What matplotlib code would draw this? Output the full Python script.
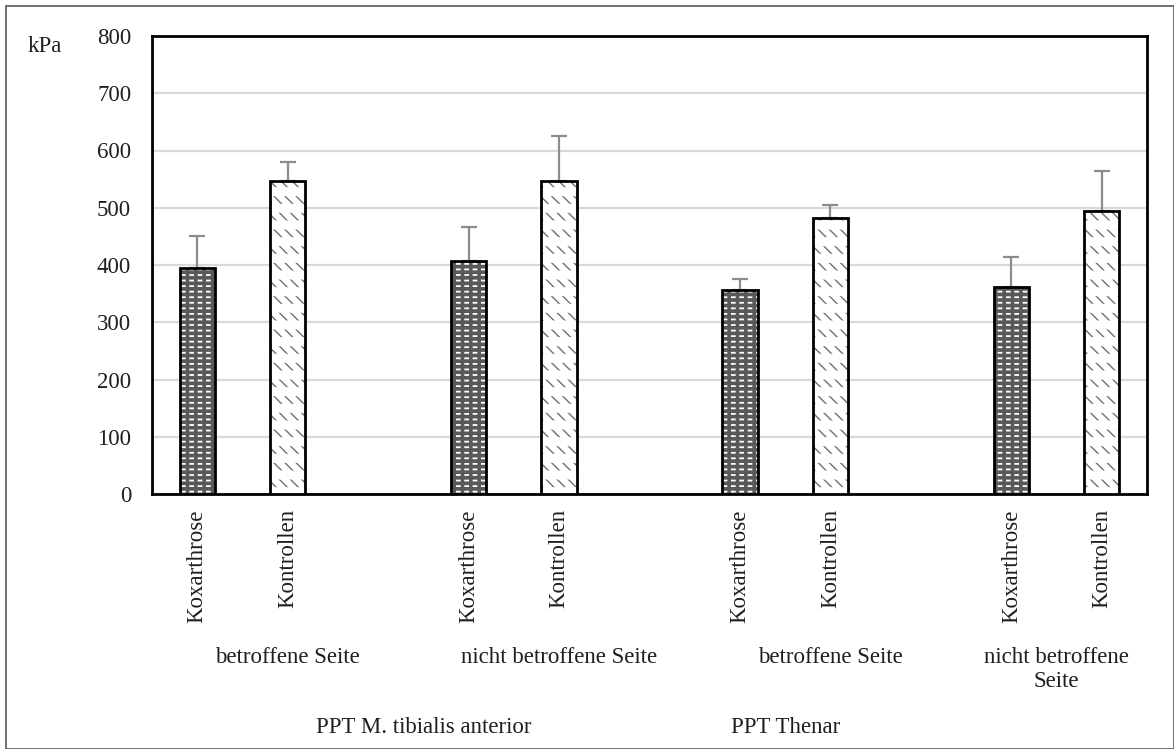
import matplotlib
matplotlib.use("Agg")
import matplotlib.pyplot as plt
from matplotlib.patches import Rectangle

# ---- data ----
categories = ["Koxarthrose", "Kontrollen"] * 4
positions = [0, 1, 3, 4, 6, 7, 9, 10]
values = [395, 547, 407, 547, 356, 482, 362, 494]
err_upper = [56, 33, 59, 79, 19, 23, 52, 71]
sub_labels = ["betroffene Seite", "nicht betroffene Seite", "betroffene Seite", "nicht betroffene\nSeite"]
sub_pos = [1, 4, 7, 9.5]
top_labels = ["PPT M. tibialis anterior", "PPT Thenar"]
top_pos = [2.5, 6.5]
yticks = [0, 100, 200, 300, 400, 500, 600, 700, 800]

plt.rcParams['font.family'] = ['Liberation Serif', 'DejaVu Serif']
FS = 16.5
TC = "#1f1f1f"

fig = plt.figure(figsize=(11.74, 7.49), dpi=100)
ax = fig.add_axes([152/1174, 1-494/749, (1147-152)/1174, (494-36)/749])

w = 0.39
for p, v, c in zip(positions, values, categories):
    if c == "Koxarthrose":
        with plt.rc_context({'hatch.linewidth': 1.3}):
            ax.bar(p, v, width=w, color="#595959", edgecolor="white", hatch="---", linewidth=0, zorder=3)
        with plt.rc_context({'hatch.linewidth': 2.6}):
            ax.bar(p, v, width=w, color="none", edgecolor="#595959", hatch="||", linewidth=0, zorder=3)
    else:
        with plt.rc_context({'hatch.linewidth': 1.0}):
            ax.bar(p, v, width=w, color="white", edgecolor="#6f6f6f", hatch="\\\\\\", linewidth=0, zorder=3)
        with plt.rc_context({'hatch.linewidth': 6.5}):
            ax.bar(p, v, width=w, color="none", edgecolor="white", hatch="-", linewidth=0, zorder=3)
    ax.bar(p, v, width=w, color="none", edgecolor="black", linewidth=2, zorder=4)

ax.errorbar(positions, values, yerr=[[0]*len(values), err_upper], fmt="none",
            ecolor="#8c8c8c", elinewidth=1.6, capsize=6, capthick=1.6, zorder=2)

ax.set_xlim(-0.5, 10.5)
ax.set_ylim(0, 800)
ax.set_yticks(yticks)
ax.set_yticklabels([str(t) for t in yticks], fontsize=FS, color=TC)
ax.tick_params(axis="y", length=0, pad=15)
ax.set_xticks(positions)
ax.set_xticklabels(categories, rotation=90, fontsize=FS, color=TC)
ax.tick_params(axis="x", length=0, pad=11)
ax.yaxis.grid(True, color="#d9d9d9", linewidth=1.6, zorder=0)
ax.set_axisbelow(True)
for s in ax.spines.values():
    s.set_linewidth(2)
    s.set_color("black")

for lbl, p in zip(sub_labels, sub_pos):
    ax.text(p, -0.333, lbl, transform=ax.get_xaxis_transform(), ha="center", va="top",
            fontsize=FS, color=TC, linespacing=1.2)
for lbl, p in zip(top_labels, top_pos):
    ax.text(p, -0.487, lbl, transform=ax.get_xaxis_transform(), ha="center", va="top",
            fontsize=FS, color=TC)

fig.text(45/1174, 1-47/749, "kPa", ha="center", va="center", fontsize=FS, color=TC)

fig.patches.append(Rectangle((6/1174, 0), 1-6/1174, 1-6/749, transform=fig.transFigure,
                             fill=False, edgecolor="#595959", linewidth=1.2))

fig.savefig("out.png", dpi=100)
